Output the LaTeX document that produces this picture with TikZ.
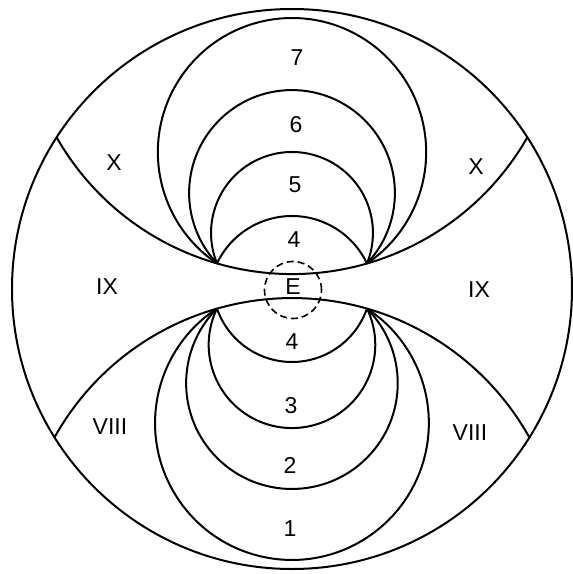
\documentclass[tikz,border=0pt]{standalone}
\usepackage{fontspec}
\setmainfont{Liberation Sans}
\usepackage{tikz}

\begin{document}
\begin{tikzpicture}[x=0.5pt,y=0.5pt,font=\fontsize{11.5}{13}\selectfont,
 zone/.style={line width=1pt},
 fovea/.style={line width=0.8pt,dash pattern=on 3.5pt off 2pt}]
\useasboundingbox (-292,-287) rectangle (281,287);
\coordinate (ul) at (-75,23.6);
\coordinate (ur) at (75,23.6);
\coordinate (ll) at (-75,-21.5);
\coordinate (lr) at (75,-21.5);
\draw[zone] (0,-2) circle[radius=280];
\draw[zone] (-235.4,149.7) arc[start angle=209.7,end angle=330.3,radius=271];
\draw[zone] (-237.5,-150.4) arc[start angle=150.8,end angle=29.2,radius=272];
\foreach \r/\a in {83/25.4,80.95/-22.1,102.9/-43.2,134.16/-56.0}
 \draw[zone] (ul) arc[start angle={180-\a},end angle=\a,radius=\r];
\foreach \r/\a in {79.3/19.0,83.3/-25.8,105.8/-44.9,136.9/-56.8}
 \draw[zone] (ll) arc[start angle={180+\a},end angle={360-\a},radius=\r];
\draw[fovea] (1,-3) circle[radius=28.5];
\node (e) at (1,0) {E};
\node (u7) at (5,229) {7};
\node (u6) at (4,162) {6};
\node (u5) at (3,102) {5};
\node (u4) at (2,47) {4};
\node (l4) at (0,-55) {4};
\node (l3) at (-1,-119) {3};
\node (l2) at (-2,-178) {2};
\node (l1) at (-2,-242) {1};
\node (xl) at (-178,124) {X};
\node (xr) at (184,120) {X};
\node (ixl) at (-185,0) {IX};
\node (ixr) at (187,-3) {IX};
\node (viiil) at (-182,-140) {VIII};
\node (viiir) at (178,-146) {VIII};
\end{tikzpicture}
\end{document}
